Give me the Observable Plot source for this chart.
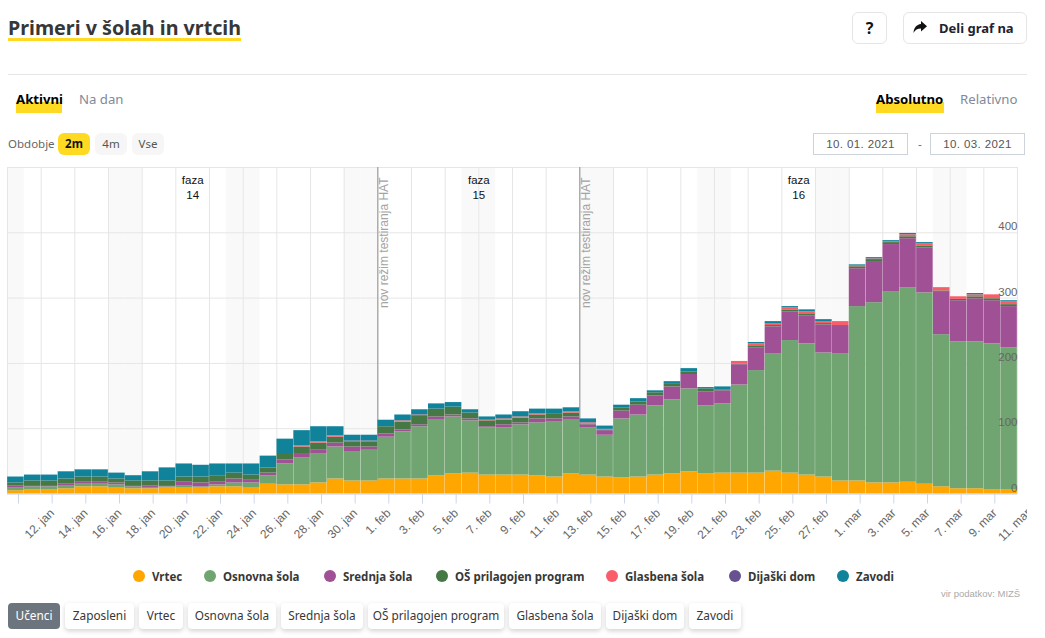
<!DOCTYPE html>
<html lang="sl">
<head>
<meta charset="utf-8">
<title>Primeri v šolah in vrtcih</title>
<script src="https://cdn.jsdelivr.net/npm/d3@7"></script>
<script src="https://cdn.jsdelivr.net/npm/@observablehq/plot@0.6"></script>
<style>
html,body{margin:0;padding:0;background:#fff;overflow:hidden}
body{width:1045px;height:638px;position:relative;font-family:"Noto Sans",sans-serif;color:#373737}
.a{position:absolute;white-space:nowrap}
.box{box-sizing:border-box;text-align:center}
.tab{font-size:13.2px;line-height:18px;height:18px;top:90px}
.tab.on{font-weight:700;color:#000;background:linear-gradient(to bottom,transparent 12px,#ffd922 12px);height:23px;top:90px}
.tab.off{color:#7f8a99}
.per{top:133px;height:22px;line-height:21px;width:32px;border-radius:6px;background:#f6f6f6;font-size:11.5px;color:#555;text-align:center}
.date{top:133px;height:22px;width:95px;border:1px solid #cdd3db;box-sizing:border-box;font:11.5px/20px "Liberation Sans",sans-serif;letter-spacing:.4px;color:#555;text-align:center}
.btn{top:603px;height:26px;line-height:25px;border-radius:4px;background:#fff;font-size:11.8px;color:#373737;text-align:center;box-shadow:0 2px 5px rgba(0,0,0,.18)}
.leg{top:569px;font-weight:700;font-size:11.5px;line-height:15px;color:#373737}
.dot{top:570px;width:12px;height:12px;border-radius:50%}
#chart{position:absolute;left:0;top:160px;width:1027px;height:390px;overflow:hidden}
</style>
</head>
<body>
<div class="a" style="left:8px;top:15px;font-size:19.7px;font-weight:700;line-height:26px;height:26px;background:linear-gradient(to bottom,transparent 23px,#ffd922 23px);width:233px">Primeri v šolah in vrtcih</div>
<div class="a box" style="left:852px;top:12px;width:35px;height:32px;border:1px solid #e5e5e5;border-radius:6px;font-weight:700;font-size:16px;line-height:30px;color:#111">?</div>
<div class="a" style="left:903px;top:12px;width:124px;height:32px;box-sizing:border-box;border:1px solid #e5e5e5;border-radius:6px"></div>
<svg class="a" style="left:913px;top:21px" width="14" height="13" viewBox="0 0 14 13"><path d="M8 0l6 5.2-6 5.2V7.4C4.5 7.4 2 8.6 0.5 12 0.8 7 3.5 3.6 8 3.1z" fill="#111"/></svg>
<div class="a" style="left:939px;top:18px;font-weight:700;font-size:13px;line-height:20px;color:#1c2331">Deli graf na</div>
<div class="a" style="left:8px;top:74px;width:1019px;height:1px;background:#e5e5e5"></div>
<div class="a tab on" style="left:16px;width:46px">Aktivni</div>
<div class="a tab off" style="left:79px">Na dan</div>
<div class="a tab on" style="left:876px;width:68px">Absolutno</div>
<div class="a tab off" style="left:960px">Relativno</div>
<div class="a" style="left:8px;top:136px;font-size:11.5px;line-height:16px;color:#666">Obdobje</div>
<div class="a per" style="left:58px;background:#ffd922;color:#111;font-weight:700">2m</div>
<div class="a per" style="left:95px">4m</div>
<div class="a per" style="left:132px">Vse</div>
<div class="a date" style="left:813px">10. 01. 2021</div>
<div class="a" style="left:918px;top:136px;font:11.5px/16px 'Liberation Sans';color:#666">-</div>
<div class="a date" style="left:930px">10. 03. 2021</div>
<div id="chart"></div>
<div id="legend"></div>
<div class="a" style="left:941px;top:588px;font:9.5px/12px 'Liberation Sans',sans-serif;color:#aaa">vir podatkov: MIZŠ</div>
<div class="a btn" style="left:8px;width:52px;background:#6c757d;color:#fff;box-shadow:none">Učenci</div>
<div class="a btn" style="left:65px;width:69px">Zaposleni</div>
<div class="a btn" style="left:139px;width:44px">Vrtec</div>
<div class="a btn" style="left:188px;width:88px">Osnovna šola</div>
<div class="a btn" style="left:281px;width:82px">Srednja šola</div>
<div class="a btn" style="left:368px;width:136px">OŠ prilagojen program</div>
<div class="a btn" style="left:509px;width:92px">Glasbena šola</div>
<div class="a btn" style="left:606px;width:78px">Dijaški dom</div>
<div class="a btn" style="left:689px;width:52px">Zavodi</div>
<script>
const seriesNames = ["Vrtec","Osnovna šola","Srednja šola","OŠ prilagojen program","Glasbena šola","Dijaški dom","Zavodi"];
const seriesColors = ["#ffa600","#70a471","#a05195","#457844","#f95d6a","#665191","#10829a"];
const firstDay = "2021-01-10";
const vrtec = [5,6,6,8,11,11,9,8,8,10,9,10,11,11,9,15,14,14,17,23,20,20,
  23,23,23,28,31,32,29,29,29,28,26,31,29,26,25,26,29,31,34,31,32,32,32,35,32,29,26,20,
  20,17,17,18,15,11,8,8,6,6];
const osnovna = [4,5,5,4,4,4,5,3,2,1,3,1,3,6,8,13,32,41,44,49,45,47,
  64,72,80,85,87,80,72,72,77,81,84,82,72,64,90,95,106,113,127,104,106,135,157,180,203,201,190,195,
  267,276,293,298,293,233,225,225,224,218];
const srednja = [3,2,2,3,3,3,3,2,2,2,6,6,4,6,4,4,6,7,6,6,7,5,
  5,3,3,5,3,3,2,5,3,6,5,5,5,7,12,15,15,20,22,21,20,31,35,41,44,43,43,43,
  58,63,72,75,69,66,63,66,66,63];
const prilagojen = [5,7,7,8,8,8,6,7,8,7,8,9,10,9,8,8,10,10,11,9,8,8,
  11,12,14,12,12,9,9,7,7,6,8,6,1,1,5,5,5,5,4,5,1,1,3,2,3,3,2,0,
  3,3,3,3,3,1,2,3,3,3];
const glasbena = [0,0,0,0,0,0,0,0,0,0,0,0,0,0,0,0,0,2,2,2,1,1,
  0,2,1,0,0,0,1,2,2,2,0,2,2,1,0,0,0,0,0,0,0,4,3,3,3,3,3,6,
  2,1,1,3,3,5,4,3,6,4];
const dijaski = Array.from({length:60},()=>0);
const zavodi = [9,9,9,11,11,11,9,8,14,20,20,18,18,14,17,18,22,23,23,14,9,9,
  10,9,8,8,7,5,5,6,8,7,7,6,6,5,4,5,3,3,5,2,5,0,2,3,2,3,3,0,
  1,2,2,2,2,0,0,2,0,2];
const seriesValues = [vrtec,osnovna,srednja,prilagojen,glasbena,dijaski,zavodi];
const weekendDays = ["2021-01-10","2021-01-16","2021-01-17","2021-01-23","2021-01-24","2021-01-30","2021-01-31","2021-02-06","2021-02-07","2021-02-13","2021-02-14","2021-02-20","2021-02-21","2021-02-27","2021-02-28","2021-03-06","2021-03-07"];
const regimeDates = ["2021-02-01","2021-02-13"];
const regimeLabel = "nov režim testiranja HAT";
const phaseDates = ["2021-01-21","2021-02-07","2021-02-26"];
const phaseNames = ["faza\n14","faza\n15","faza\n16"];
const monthNames = ["jan","feb","mar"];
const yGridTicks = [0,100,200,300,400,500];
const yLabelTicks = [0,100,200,300,400];

const D = s => new Date(s + "T00:00:00Z");
const addDays = (d,n) => new Date(+d + n*864e5);
const start = D(firstDay);
const days = vrtec.map((_,i)=>addDays(start,i));
const xTicks = d3.utcDay.range(start, addDays(start,61), 1).filter((d,i)=>i%2===0);
const rows = seriesNames.flatMap((s,j)=>days.map((d,i)=>({date:d,series:s,value:seriesValues[j][i]})));
const fmt = d => +d === +start ? "" : `${d.getUTCDate()}. ${monthNames[d.getUTCMonth()]}`;

const plot = Plot.plot({
  width:1045, height:390,
  marginLeft:7, marginRight:28, marginTop:7, marginBottom:56.5,
  style:{background:"transparent",overflow:"visible",maxWidth:"none",fontFamily:"'Liberation Sans',sans-serif"},
  x:{type:"utc",domain:[start,addDays(start,60)],axis:null},
  y:{domain:[0,500],axis:null},
  color:{domain:seriesNames,range:seriesColors},
  marks:[
    Plot.rectY(weekendDays.map(D),{x1:d=>d,x2:d=>addDays(d,1),y1:0,y2:500,fill:"#f9f9f9"}),
    Plot.gridX(xTicks,{stroke:"#e6e6e6",strokeOpacity:1}),
    Plot.gridY(yGridTicks,{stroke:"#e6e6e6",strokeOpacity:1}),
    Plot.ruleX(regimeDates.map(D),{stroke:"#8e8e8e",strokeWidth:1}),
    Plot.rectY(rows,{x:"date",interval:"day",y:"value",fill:"series",order:seriesNames,insetLeft:.15,insetRight:.15}),
    Plot.ruleY([0],{stroke:"#ccd6eb"}),
    Plot.axisX(xTicks,{tickSize:10,stroke:"#ccd6eb",fill:"#666",tickFormat:fmt,tickRotate:-45,fontSize:12,tickPadding:7,dx:11,label:null}),
    Plot.text(yLabelTicks,{y:d=>d,text:d=>String(d),frameAnchor:"right",textAnchor:"end",dy:-6,fill:"#666",fontSize:11.5}),
    Plot.text(regimeDates.map(D),{x:d=>d,text:()=>regimeLabel,frameAnchor:"top",rotate:-90,textAnchor:"end",dx:2,dy:10,fill:"#a3a3a3",fontSize:12}),
    Plot.text(phaseDates.map(D),{x:d=>d,text:(d,i)=>phaseNames[i],frameAnchor:"top",lineAnchor:"top",lineHeight:1.3,dy:6,fill:"#111",fontSize:11.5})
  ]
});
document.getElementById("chart").append(plot);

const legendLeft = [133,204,324,436,606,729,837];
const legend = document.getElementById("legend");
seriesNames.forEach((s,i)=>{
  const dot=document.createElement("div");dot.className="a dot";dot.style.left=legendLeft[i]+"px";dot.style.background=seriesColors[i];legend.append(dot);
  const t=document.createElement("div");t.className="a leg";t.style.left=(legendLeft[i]+19)+"px";t.textContent=s;legend.append(t);
});
</script>
</body>
</html>
